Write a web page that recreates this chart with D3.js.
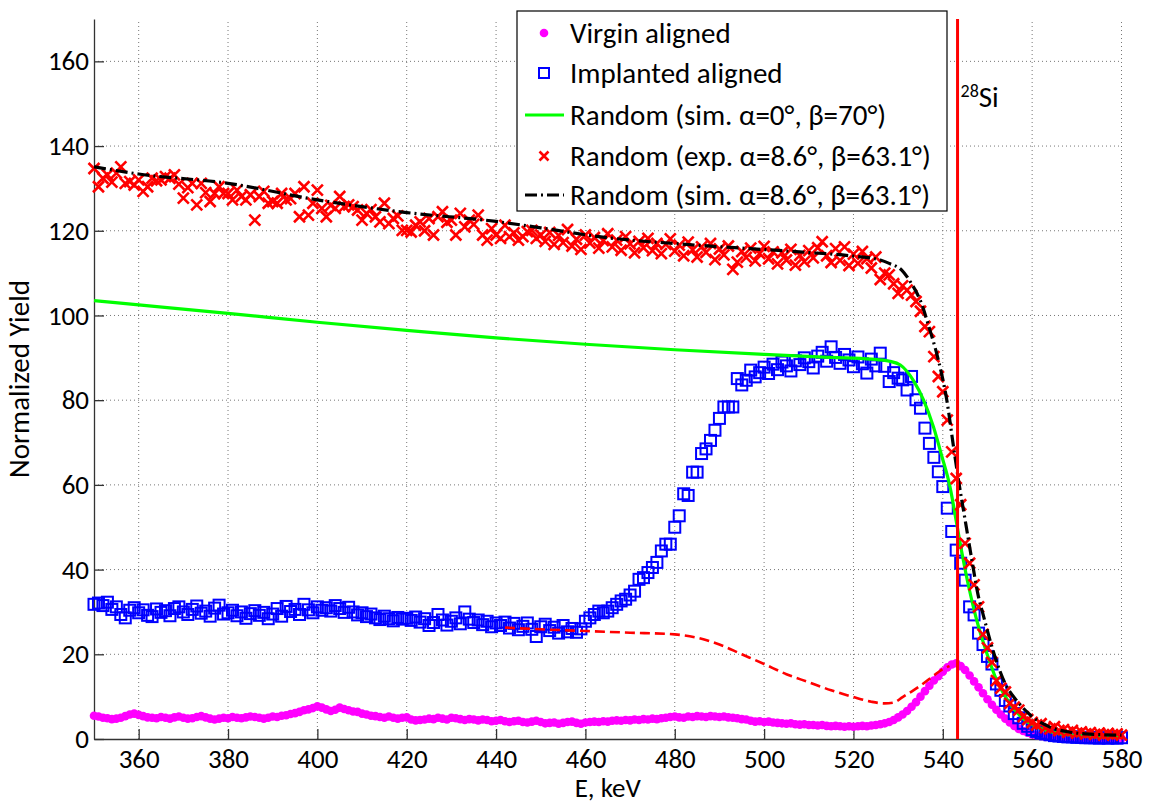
<!DOCTYPE html>
<html>
<head>
<meta charset="utf-8">
<title>RBS yield</title>
<script src="https://d3js.org/d3.v7.min.js"></script>
<style>
    body { margin: 0; background: #fff; }
    svg text { font-family: Carlito, Calibri, Lato, sans-serif; fill: #000; }
    .grid line { stroke: #777; stroke-width: 1; stroke-dasharray: 1,3; }
    .axis path, .axis line { stroke: #333; stroke-width: 1.3; }
</style>
</head>
<body>
<div id="chart"></div>
<script>

// energy channels, 1 keV per channel
var energy = d3.range(350, 581);

// Virgin aligned (magenta dots)
var virginAligned = [
    5.5,5.3,5.0,4.9,4.7,4.8,5.0,5.4,5.8,6.0,
    5.7,5.4,5.1,5.0,4.9,5.2,5.0,4.8,5.1,5.3,
    5.0,4.8,4.9,5.2,5.4,5.1,4.8,4.6,4.8,5.0,
    4.9,5.2,5.0,4.9,5.1,5.3,5.2,5.0,4.8,5.0,
    5.3,5.2,5.5,5.6,5.9,6.1,6.4,6.8,7.0,7.3,
    7.7,7.4,7.0,6.6,6.9,7.4,7.1,6.8,6.5,6.4,
    6.0,5.8,5.5,5.4,5.2,5.0,5.3,5.0,4.8,5.0,
    5.1,4.6,4.4,4.5,4.6,4.8,4.7,5.0,4.8,4.6,
    5.0,4.9,4.7,4.5,4.7,4.6,4.4,4.6,4.5,4.2,
    4.3,4.5,4.2,4.0,4.2,4.3,4.0,3.9,4.1,4.3,
    4.0,3.7,3.8,3.9,3.6,3.8,4.0,4.1,3.8,3.6,
    3.9,4.0,4.1,4.0,4.2,4.1,4.3,4.4,4.3,4.5,
    4.4,4.6,4.5,4.7,4.6,4.8,4.7,4.9,5.0,5.2,
    5.3,5.1,5.0,5.3,5.2,5.4,5.3,5.2,5.4,5.3,
    5.2,5.3,5.1,5.0,4.9,4.7,4.6,4.3,4.1,4.2,
    4.0,4.1,3.9,3.8,3.7,3.6,3.7,3.5,3.4,3.5,
    3.3,3.3,3.2,3.3,3.1,3.0,3.1,3.0,2.9,3.0,
    2.9,3.0,3.1,3.0,3.2,3.3,3.5,3.7,4.0,4.5,
    5.1,5.8,6.6,7.6,8.7,10.0,11.3,12.6,13.8,14.8,
    15.9,16.9,17.6,17.9,17.2,16.3,15.0,13.6,12.2,10.8,
    9.4,8.1,6.9,5.8,4.8,3.9,3.1,2.4,1.9,1.5,
    1.1,0.9,0.7,0.5,0.4,0.3,0.3,0.2,0.2,0.2,
    0.1,0.1,0.1,0.1,0.1,0.1,0.1,0.1,0.1,0.1,
    0.1
];

// Implanted aligned (blue squares)
var implantedAligned = [
    31.8,32.1,31.5,32.3,30.6,31.2,29.4,28.6,30.4,31.0,
    29.8,30.5,29.2,28.9,30.7,29.9,30.3,29.1,30.8,31.2,
    30.0,29.4,30.6,31.4,29.7,30.2,29.0,30.9,31.6,29.5,
    29.8,30.4,29.1,30.0,28.5,29.6,30.3,29.2,29.9,28.4,
    29.5,30.8,29.0,31.3,30.1,30.6,29.4,31.8,30.5,29.8,
    31.2,30.4,31.0,30.2,31.5,30.8,29.9,31.1,30.0,29.3,
    29.8,28.9,29.5,28.6,28.2,29.0,28.4,27.9,28.7,28.3,
    28.5,28.0,28.8,27.6,28.4,26.8,27.5,29.4,28.1,26.9,
    27.8,28.6,27.2,30.0,28.3,27.5,28.1,27.0,27.8,26.5,
    27.4,26.8,27.6,26.2,27.3,25.8,26.6,27.4,25.9,24.2,
    26.5,27.1,25.6,26.4,25.0,26.8,25.3,26.1,25.2,26.0,
    27.8,28.6,29.4,30.2,29.8,30.2,31.0,31.8,32.6,33.0,
    34.0,34.9,37.7,38.1,39.3,40.5,41.7,44.4,46.0,46.0,
    50.0,52.7,57.9,57.5,63.0,63.0,67.4,68.5,70.5,72.9,
    75.7,78.4,78.4,78.4,85.1,83.6,84.7,87.1,85.5,86.5,
    87.8,86.3,88.5,87.2,89.0,88.1,86.9,89.3,88.4,90.0,
    89.1,87.6,90.4,91.3,89.2,92.6,90.1,88.7,90.8,89.5,
    87.9,90.2,88.6,86.4,89.7,88.1,91.1,88.0,84.4,86.5,
    85.2,84.8,82.4,85.6,80.1,78.1,73.4,69.8,66.5,63.1,
    59.6,54.5,49.0,44.6,41.5,37.5,31.2,29.3,25.0,22.3,
    19.5,17.7,13.0,11.5,9.1,7.8,6.0,5.0,3.7,3.0,
    2.2,1.8,1.4,1.2,1.0,0.8,0.7,0.6,0.5,0.5,
    0.4,0.4,0.3,0.3,0.3,0.2,0.3,0.2,0.3,0.2,
    0.3
];

// Random, experimental (red crosses)
var randomExp = [
    134.7,130.4,132.4,133.2,131.5,133.6,135.1,131.2,131.6,130.8,
    132.0,129.3,130.4,132.4,131.8,132.0,132.8,132.4,133.2,131.0,
    127.7,130.2,131.2,126.1,131.2,129.0,126.9,128.8,130.4,128.8,
    128.8,127.3,129.6,128.1,127.3,128.5,122.5,128.1,129.3,126.5,
    126.9,126.5,128.8,127.3,127.6,128.8,123.3,130.4,123.7,126.5,
    129.6,125.3,123.3,126.0,125.3,128.1,125.7,126.1,125.7,124.9,
    122.5,124.1,125.0,123.3,122.1,126.5,121.7,122.9,123.5,120.1,
    120.1,119.7,121.3,122.1,120.0,122.9,119.0,123.3,124.5,122.0,
    122.5,119.0,124.1,120.9,122.5,121.5,123.7,119.0,117.8,120.5,
    119.0,118.2,121.3,118.6,119.5,117.8,118.6,119.8,120.1,118.2,
    119.0,117.5,119.6,116.8,118.9,117.2,120.3,116.4,118.0,115.6,
    119.0,117.1,118.4,115.9,117.7,119.3,116.2,117.8,115.4,118.6,
    116.9,114.8,117.5,116.0,118.2,115.3,117.0,114.6,116.8,118.1,
    115.2,116.6,114.1,117.3,115.5,113.8,116.2,114.9,117.0,113.2,
    115.7,114.3,116.4,110.9,112.6,115.1,113.7,115.9,112.9,114.6,
    116.3,113.4,115.0,112.2,114.8,113.1,115.6,111.9,114.2,112.7,
    115.3,113.6,116.0,117.4,114.1,112.5,115.8,113.0,116.2,111.8,
    114.5,112.3,115.1,113.4,111.2,113.8,108.5,110.0,109.6,107.5,
    105.2,107.0,106.0,104.8,103.3,101.0,97.4,96.2,90.3,85.6,
    82.0,75.3,67.8,61.5,55.3,46.2,41.5,36.4,31.2,24.7,
    21.5,18.1,13.8,12.0,11.1,8.4,7.5,6.8,5.3,4.6,
    3.9,3.3,3.6,2.7,2.4,2.9,2.0,2.2,1.6,2.0,
    1.4,1.7,1.2,1.5,1.1,1.4,0.9,1.3,1.0,1.2,
    0.9
];

// Random simulation, alpha=0, beta=70 (green line)
var simGreenE = [350,360,380,400,420,440,460,480,500,515,524,528,530.5,533.5,535.7,537.9,539.8,541.6,543,544,545,546,547,548,549,550,552,554,556,558,560,564,568,572,576,580];
var simGreenY = [103.5,102.5,100.5,98.4,96.5,94.7,93.2,91.9,90.8,90.1,89.7,89.2,88.3,84.5,80,73.7,66.7,59.6,51.5,45.5,40,35,30.5,26.5,23,19.8,14,10,7,4.8,3.4,1.8,1.0,0.7,0.5,0.5];

// Random simulation, alpha=8.6, beta=63.1 (black dash-dot)
var simBlackE = [350,360,380,400,420,440,450,463,485,508,520,526,528,530.8,533,534.9,537.1,539,540.9,542.4,543.5,545,546.5,548,549,550,551.5,554,556.6,560,564,568,572,576,580];
var simBlackY = [135.1,133.4,131.2,127.3,124.3,122.2,120.7,118.6,116.6,115,114,113.1,112.3,110.7,107.5,103.7,96.6,89.5,80,69,61.2,51.7,42.3,33.5,29.5,25.5,20,13,9,5.3,2.8,1.7,1.2,1.0,0.9];

// red dashed curve (no legend entry)
var dashedE = [442,450,460,470,480,485,490,495,500,505,510,515,520,524,527,529,531,533,535,538,540,541.5];
var dashedY = [26.3,25.9,25.5,25.1,24.7,23.9,22.3,20,17.7,15.3,13.4,11.5,9.9,8.8,8.4,8.6,9.9,11.2,12.6,15,16.5,17.2];

// 28Si surface edge
var siEdge = 543.3;

var xTicks = [360,380,400,420,440,460,480,500,520,540,560,580];
var yTicks = [0,20,40,60,80,100,120,140,160];

var legendLabels = [
    "Virgin aligned",
    "Implanted aligned",
    "Random (sim. \u03b1=0\u00b0, \u03b2=70\u00b0)",
    "Random (exp. \u03b1=8.6\u00b0, \u03b2=63.1\u00b0)",
    "Random (sim. \u03b1=8.6\u00b0, \u03b2=63.1\u00b0)"
];

//--------------------------------------------------
// layout
//--------------------------------------------------
var w = 1152, h = 804;
var plotLeft = 94, plotRight = 1121.5, plotTop = 19, plotBottom = 739;
var tickFont = 27, legendFont = 29;

var svg = d3.select("#chart")
    .append("svg")
    .attr("width", w)
    .attr("height", h);

var x = d3.scaleLinear().domain([350, 580]).range([plotLeft, plotRight]);
var y = d3.scaleLinear().domain([0, 170]).range([plotBottom, plotTop]);

// grid
var grid = svg.append("g").attr("class", "grid");
grid.selectAll(".gx")
    .data(xTicks)
    .enter()
    .append("line")
    .attr("x1", function (d) { return x(d); })
    .attr("x2", function (d) { return x(d); })
    .attr("y1", plotBottom)
    .attr("y2", plotTop);
grid.selectAll(".gy")
    .data(yTicks.filter(function (d) { return d > 0; }))
    .enter()
    .append("line")
    .attr("x1", plotLeft)
    .attr("x2", plotRight)
    .attr("y1", function (d) { return y(d); })
    .attr("y2", function (d) { return y(d); });

// axes, ticks pointing inwards
svg.append("g")
    .attr("class", "axis")
    .attr("transform", "translate(0," + plotBottom + ")")
    .call(d3.axisBottom(x).tickValues(xTicks).tickSize(-10).tickSizeOuter(0).tickPadding(10).tickFormat(d3.format("d")));
svg.append("g")
    .attr("class", "axis")
    .attr("transform", "translate(" + plotLeft + ",0)")
    .call(d3.axisLeft(y).tickValues(yTicks).tickSize(-10).tickSizeOuter(0).tickPadding(5).tickFormat(d3.format("d")));
svg.selectAll(".axis text")
    .style("font-size", tickFont + "px")
    .style("font-family", "Carlito, Calibri, Lato, sans-serif")
    .attr("fill", "#000");

// axis titles
svg.append("text")
    .attr("x", (plotLeft + plotRight) / 2)
    .attr("y", 797)
    .attr("text-anchor", "middle")
    .style("font-size", tickFont + "px")
    .text("E, keV");
svg.append("text")
    .attr("transform", "translate(29," + ((plotTop + plotBottom) / 2) + ") rotate(-90)")
    .attr("text-anchor", "middle")
    .style("font-size", "29px")
    .text("Normalized Yield");

//--------------------------------------------------
// data series
//--------------------------------------------------
var plot = svg.append("g");

function pairs(xs, ys) {
    return xs.map(function (d, i) { return [d, ys[i]]; });
}

var line = d3.line()
    .x(function (d) { return x(d[0]); })
    .y(function (d) { return y(d[1]); })
    .curve(d3.curveMonotoneX);

// virgin aligned
plot.append("g").selectAll("circle")
    .data(pairs(energy, virginAligned))
    .enter()
    .append("circle")
    .attr("cx", function (d) { return x(d[0]); })
    .attr("cy", function (d) { return y(d[1]); })
    .attr("r", 4.3)
    .attr("fill", "#ff00ff");

// implanted aligned
var sq = 11;
plot.append("g").selectAll("rect")
    .data(pairs(energy, implantedAligned))
    .enter()
    .append("rect")
    .attr("x", function (d) { return x(d[0]) - sq / 2; })
    .attr("y", function (d) { return y(d[1]) - sq / 2; })
    .attr("width", sq)
    .attr("height", sq)
    .attr("fill", "none")
    .attr("stroke", "#0000ff")
    .attr("stroke-width", 2);

// green simulation
plot.append("path")
    .datum(pairs(simGreenE, simGreenY))
    .attr("d", line)
    .attr("fill", "none")
    .attr("stroke", "#00ff00")
    .attr("stroke-width", 3.2);

// random exp crosses
var cr = 5.5;
plot.append("g").selectAll("path")
    .data(pairs(energy, randomExp))
    .enter()
    .append("path")
    .attr("d", function (d) {
        var cx = x(d[0]), cy = y(d[1]);
        return "M" + (cx - cr) + "," + (cy - cr) + "L" + (cx + cr) + "," + (cy + cr) +
               "M" + (cx - cr) + "," + (cy + cr) + "L" + (cx + cr) + "," + (cy - cr);
    })
    .attr("stroke", "#ff0000")
    .attr("stroke-width", 2.6)
    .attr("fill", "none");

// black dash-dot simulation
plot.append("path")
    .datum(pairs(simBlackE, simBlackY))
    .attr("d", line)
    .attr("fill", "none")
    .attr("stroke", "#000")
    .attr("stroke-width", 3.2)
    .attr("stroke-dasharray", "12,4,2,4");

// red dashed curve
plot.append("path")
    .datum(pairs(dashedE, dashedY))
    .attr("d", line)
    .attr("fill", "none")
    .attr("stroke", "#ff0000")
    .attr("stroke-width", 2.6)
    .attr("stroke-dasharray", "10,5");

// surface edge marker
plot.append("line")
    .attr("x1", x(siEdge))
    .attr("x2", x(siEdge))
    .attr("y1", y(0))
    .attr("y2", y(170))
    .attr("stroke", "#ff0000")
    .attr("stroke-width", 3);

var si = svg.append("text")
    .attr("x", x(siEdge) + 3)
    .attr("y", 107)
    .style("font-size", legendFont + "px");
si.append("tspan").text("28").style("font-size", "18px").attr("dy", -10);
si.append("tspan").text("Si").attr("dy", 10);

//--------------------------------------------------
// legend
//--------------------------------------------------
var lg = svg.append("g").attr("transform", "translate(517,11)");
lg.append("rect")
    .attr("width", 430)
    .attr("height", 200)
    .attr("fill", "#fff")
    .attr("stroke", "#000")
    .attr("stroke-width", 1.2);

var rowY = [22, 62, 104, 145, 184];
var row = lg.selectAll(".row")
    .data(legendLabels)
    .enter()
    .append("g")
    .attr("transform", function (d, i) { return "translate(0," + rowY[i] + ")"; });

row.append("text")
    .attr("x", 53)
    .attr("dy", "0.35em")
    .style("font-size", legendFont + "px")
    .text(function (d) { return d; });

var mx = 27;
lg.append("circle").attr("cx", mx).attr("cy", rowY[0]).attr("r", 4.3).attr("fill", "#ff00ff");
lg.append("rect").attr("x", mx - 5).attr("y", rowY[1] - 5).attr("width", 10).attr("height", 10)
    .attr("fill", "none").attr("stroke", "#0000ff").attr("stroke-width", 2);
lg.append("line").attr("x1", 8).attr("x2", 47).attr("y1", rowY[2]).attr("y2", rowY[2])
    .attr("stroke", "#00ff00").attr("stroke-width", 3.2);
lg.append("path")
    .attr("d", "M" + (mx - 4.5) + "," + (rowY[3] - 4.5) + "L" + (mx + 4.5) + "," + (rowY[3] + 4.5) +
               "M" + (mx - 4.5) + "," + (rowY[3] + 4.5) + "L" + (mx + 4.5) + "," + (rowY[3] - 4.5))
    .attr("stroke", "#ff0000").attr("stroke-width", 2.6);
lg.append("line").attr("x1", 8).attr("x2", 47).attr("y1", rowY[4]).attr("y2", rowY[4])
    .attr("stroke", "#000").attr("stroke-width", 3.2).attr("stroke-dasharray", "12,4,2,4");

</script>
</body>
</html>
